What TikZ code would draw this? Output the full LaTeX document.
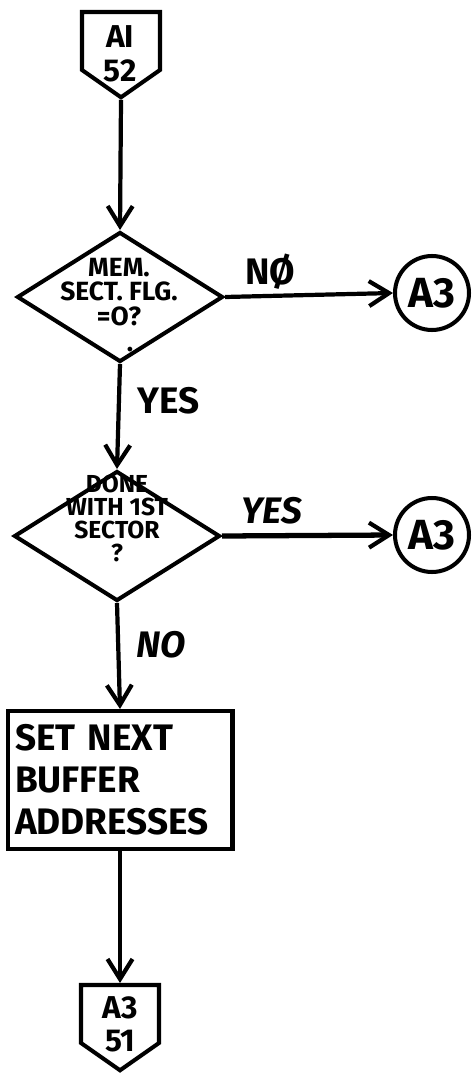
\documentclass[tikz,border=0pt]{standalone}
\usepackage{fontspec}
\setmainfont{Fira Sans}
\usetikzlibrary{positioning, shapes.geometric, shapes.symbols, arrows.meta}

\begin{document}
\begin{tikzpicture}[x=0.02cm, y=-0.02cm, line width=2.3pt, font=\bfseries,
    flow/.style={line width=2.4pt, -{Straight Barb[length=0.4cm, width=0.5cm, line width=2.4pt]}},
    offpage/.style={signal, signal to=south, signal pointer angle=110, draw, inner sep=0pt,
        minimum width=1.56cm, minimum height=1.16cm},
    decision/.style={diamond, draw, inner sep=0pt, minimum width=4.12cm, minimum height=2.6cm},
    onpage/.style={circle, draw, inner sep=0pt, minimum size=1.48cm, font=\fontsize{24}{24}\selectfont\bfseries},
    process/.style={rectangle, draw, inner sep=0pt, minimum width=4.5cm, minimum height=2.76cm},
    dtext/.style={align=center, anchor=north, inner sep=0pt},
    ptext/.style={align=center, font=\fontsize{18}{19}\selectfont\bfseries},
    lbl/.style={font=\fontsize{21}{21}\selectfont\bfseries},
    ilbl/.style={font=\fontsize{21}{21}\selectfont\bfseries\itshape}]
        \useasboundingbox (0, 0) rectangle (475, 1078);

        % Define nodes
        \node[offpage] (a1) at (121, 41) {};
        \node[ptext] (a1t) at (120, 54) {AI\\52};
        \node[decision] (mem) at (120, 297) {};
        \node[dtext, font=\fontsize{15}{14}\selectfont\bfseries] (memt) at (119, 256) {MEM.\\SECT. FLG.\\=O?};
        \node[font=\fontsize{15}{15}\selectfont\bfseries, inner sep=0pt] (memdot) at (130, 350) {.};
        \node[onpage] (c1) at (432, 293) {A3};
        \node[decision] (done) at (117, 536) {};
        \node[dtext, font=\fontsize{14}{13}\selectfont\bfseries] (donet) at (117, 473) {DONE\\WITH 1ST\\SECTOR\\?};
        \node[onpage] (c2) at (432, 535) {A3};
        \node[process, align=left, font=\fontsize{21}{24}\selectfont\bfseries, text width=4.2cm] (buf) at (120, 780)
            {SET NEXT\\BUFFER\\ADDRESSES};
        \node[offpage] (a3) at (120, 1014) {};
        \node[ptext] (a3t) at (120, 1024) {A3\\51};

        % Draw edges
        \draw[flow] (a1.south) -- (mem.north);
        \draw[flow] (mem.south) -- node[lbl, right=6pt, pos=0.35] {YES} (done.north);
        \draw[flow] (mem.east) -- node[lbl, above=-1pt, pos=0.27] {NØ} (c1.west);
        \draw[flow, line width=3pt] (done.east) -- node[ilbl, above=2pt, pos=0.29] {YES} (c2.west);
        \draw[flow] (done.south) -- node[ilbl, right=6pt, pos=0.39] {NO} (buf.north);
        \draw[flow] (buf.south) -- (a3.north);
    \end{tikzpicture}
\end{document}
